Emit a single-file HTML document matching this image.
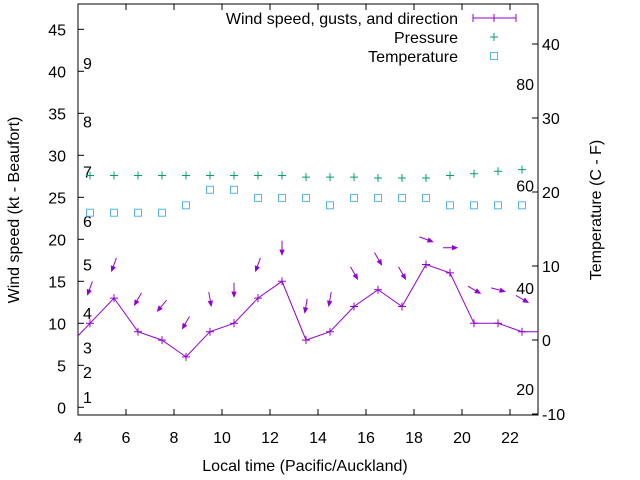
<!DOCTYPE html>
<html><head><meta charset="utf-8"><style>
body{margin:0;background:#fff}
svg{display:block;font-family:"Liberation Sans",sans-serif}
text{fill:#000;font-size:16px}
</style></head><body>
<svg id="c" width="640" height="480" viewBox="0 0 640 480">
<g id="g"></g>
</svg>
<script>
const hours=[4.5,5.5,6.5,7.5,8.5,9.5,10.5,11.5,12.5,13.5,14.5,15.5,16.5,17.5,18.5,19.5,20.5,21.5,22.5];
const windKt=[10,13,9,8,6,9,10,13,15,8,9,12,14,12,17,16,10,10,9];
const gustKt=[14.2,17,12.9,12.1,10.1,12.9,14,17,19,12.1,12.9,16,17.7,16,20,19,14,14,12.9];
const dirDeg=[20,20,30,40,30,350,0,20,0,10,10,330,330,330,290,270,300,285,300];
const pressure=[27.6,27.6,27.6,27.6,27.6,27.6,27.6,27.6,27.6,27.4,27.4,27.4,27.3,27.3,27.3,27.6,27.8,28.1,28.3];
const tempC=[17.2,17.2,17.2,17.2,18.2,20.3,20.3,19.2,19.2,19.2,18.2,19.2,19.2,19.2,19.2,18.2,18.2,18.2,18.2];
const xTicks=[4,6,8,10,12,14,16,18,20,22];
const yTicks=[0,5,10,15,20,25,30,35,40,45];
const y2Ticks=[-10,0,10,20,30,40];
const beaufort=[[1,1.2],[2,4.2],[3,7.1],[4,11.2],[5,17],[6,22.2],[7,28.1],[8,34],[9,41]];
const fahr=[[20,2.2],[40,14.2],[60,26.4],[80,38.5],[100,50.6]];
const L=78,R=538,T=4,B=415;
const X=h=>L+(h-4)*24;
const Y=v=>407.3-v*8.4;
const Y2=v=>340-v*7.4;
const NS="http://www.w3.org/2000/svg";
const g=document.getElementById('g');
function mk(t,a,p){const e=document.createElementNS(NS,t);for(const k in a)e.setAttribute(k,a[k]);(p||g).appendChild(e);return e;}
function tx(x,y,s,anchor,name){const e=mk('text',{x:x,y:y,'text-anchor':anchor||'middle'});e.textContent=s;


return e;}
const frame=mk('rect',{x:L,y:T,width:R-L,height:B-T,fill:'none',stroke:'#000','stroke-width':1});


xTicks.forEach(h=>{const x=X(h);mk('line',{x1:x,y1:B,x2:x,y2:B-6,stroke:'#000'});mk('line',{x1:x,y1:T,x2:x,y2:T+6,stroke:'#000'});tx(x,443,String(h),'middle','x-tick-label');});
yTicks.forEach(v=>{const y=Y(v);mk('line',{x1:L,y1:y,x2:L+6,y2:y,stroke:'#000'});tx(L-12,y+6,String(v),'end','y-tick-label');});
y2Ticks.forEach(v=>{const y=Y2(v);mk('line',{x1:R,y1:y,x2:R-6,y2:y,stroke:'#000'});tx(R+4,y+6,String(v),'start','y2-tick-label');});
beaufort.forEach(b=>tx(83,Y(b[1])+6,String(b[0]),'start','beaufort-label'));
fahr.forEach(f=>tx(534,Y(f[1])+6,String(f[0]),'end','fahrenheit-label'));
// wind line
let pts=hours.map((h,i)=>X(h)+','+Y(windKt[i]));
pts.unshift(L+','+Y(windKt[0]-(windKt[1]-windKt[0])*0.5));
pts.push(R+','+Y(windKt[windKt.length-1]));
const wl=mk('polyline',{points:pts.join(' '),fill:'none',stroke:'#9400d3','stroke-width':1});


hours.forEach((h,i)=>{const x=X(h),y=Y(windKt[i]);
const p=mk('path',{d:`M${x-4},${y}h8M${x},${y-4}v8`,stroke:'#9400d3'});

});
// arrows
hours.forEach((h,i)=>{const a=dirDeg[i]*Math.PI/180,len=14;const cx=X(h),cy=Y(gustKt[i]);
const dx=-Math.sin(a)*len,dy=Math.cos(a)*len;const x1=cx-dx/2,y1=cy-dy/2,x2=cx+dx/2,y2=cy+dy/2;
const ang=Math.atan2(dy,dx),hl=5;
const d=`M${x1},${y1}L${x2},${y2}M${x2},${y2}L${x2-hl*Math.cos(ang-0.4)},${y2-hl*Math.sin(ang-0.4)}L${x2-hl*Math.cos(ang+0.4)},${y2-hl*Math.sin(ang+0.4)}Z`;
const p=mk('path',{d:d,stroke:'#9400d3',fill:'#9400d3','stroke-width':1});

});
// pressure
hours.forEach((h,i)=>{const x=X(h),y=Y(pressure[i]);
const p=mk('path',{d:`M${x-4},${y}h8M${x},${y-4}v8`,stroke:'#009e73'});

});
// temperature
hours.forEach((h,i)=>{const x=X(h),y=Y2(tempC[i]);
const p=mk('rect',{x:x-3.5,y:y-3.5,width:7,height:7,fill:'none',stroke:'#56b4e9'});

});
// legend
tx(458,24,'Wind speed, gusts, and direction','end','legend-wind');
const lw=mk('path',{d:'M473,18H516M473,14v8M516,14v8M494,14v8',stroke:'#9400d3'});


tx(458,43,'Pressure','end','legend-pressure');
mk('path',{d:'M490,37h8M494,33v8',stroke:'#009e73'});
tx(458,62,'Temperature','end','legend-temperature');
mk('rect',{x:490.5,y:52.5,width:7,height:7,fill:'none',stroke:'#56b4e9'});
// axis titles
tx(305,471,'Local time (Pacific/Auckland)','middle','x-axis-title');
const yt=tx(0,0,'Wind speed (kt - Beaufort)','middle','y-axis-title');yt.setAttribute('transform','translate(19,210) rotate(-90)');
const y2t=tx(0,0,'Temperature (C - F)','middle','y2-axis-title');y2t.setAttribute('transform','translate(601,210) rotate(-90)');
</script>
</body></html>
